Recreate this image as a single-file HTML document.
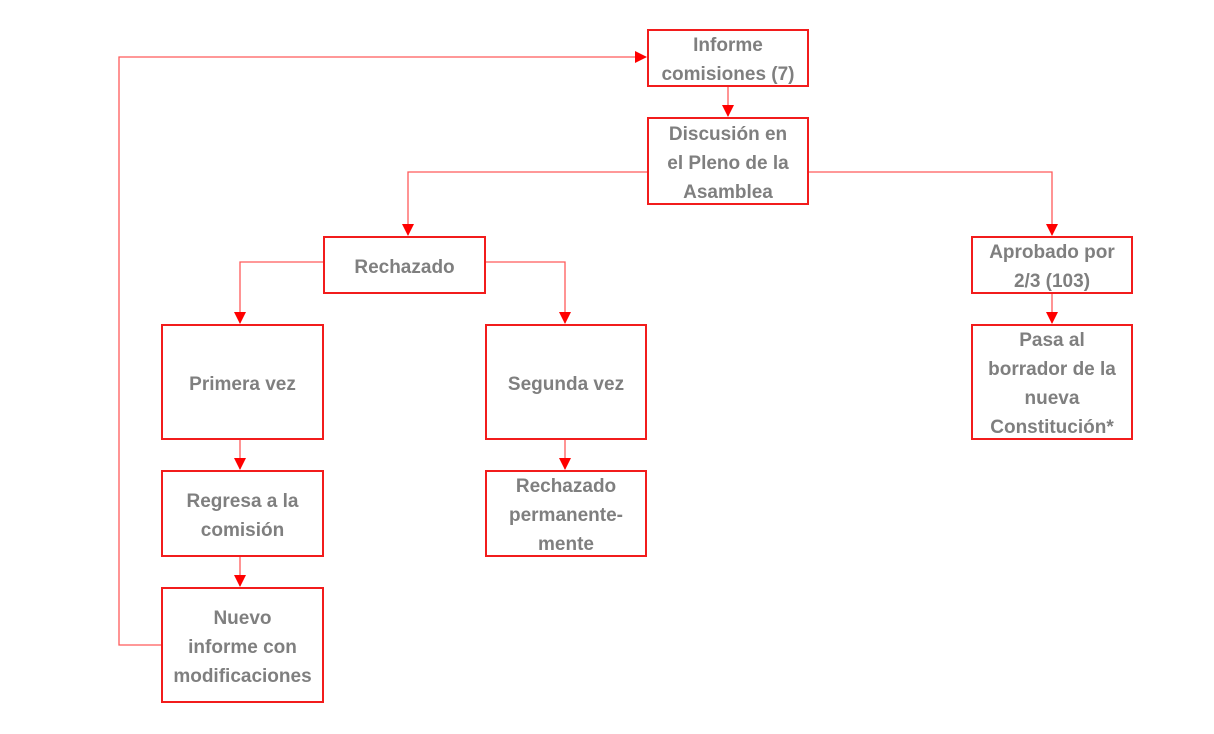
<!DOCTYPE html>
<html><head><meta charset="utf-8"><style>
body{margin:0;width:1214px;height:734px;background:#fff;position:relative;overflow:hidden;font-family:"Liberation Sans",sans-serif}
.b{position:absolute;box-sizing:border-box;border:2px solid #f21c1c;display:flex;align-items:center;justify-content:center;text-align:center;color:#7f7f7f;font-weight:bold;font-size:19px;line-height:29px;padding-top:4px}
svg{position:absolute;left:0;top:0}
</style></head><body>
<svg width="1214" height="734">
<defs><marker id="a" markerWidth="12" markerHeight="12" refX="11" refY="6" orient="auto" markerUnits="userSpaceOnUse"><path d="M0,0 L12,6 L0,12z" fill="#f00"/></marker></defs>
<g stroke="#ff5a5a" stroke-width="1.3" fill="none" marker-end="url(#a)">
<path d="M161,645 H119 V57 H646"/>
<path d="M728,87 V116"/>
<path d="M647,172 H408 V235"/>
<path d="M809,172 H1052 V235"/>
<path d="M323,262 H240 V323"/>
<path d="M486,262 H565 V323"/>
<path d="M240,440 V469"/>
<path d="M240,557 V586"/>
<path d="M565,440 V469"/>
<path d="M1052,294 V323"/>
</g></svg>
<div class="b" style="left:647px;top:29px;width:162px;height:58px">Informe<br>comisiones (7)</div>
<div class="b" style="left:647px;top:117px;width:162px;height:88px">Discusión en<br>el Pleno de la<br>Asamblea</div>
<div class="b" style="left:323px;top:236px;width:163px;height:58px">Rechazado</div>
<div class="b" style="left:971px;top:236px;width:162px;height:58px">Aprobado por<br>2/3 (103)</div>
<div class="b" style="left:161px;top:324px;width:163px;height:116px">Primera vez</div>
<div class="b" style="left:485px;top:324px;width:162px;height:116px">Segunda vez</div>
<div class="b" style="left:971px;top:324px;width:162px;height:116px">Pasa al<br>borrador de la<br>nueva<br>Constitución*</div>
<div class="b" style="left:161px;top:470px;width:163px;height:87px">Regresa a la<br>comisión</div>
<div class="b" style="left:485px;top:470px;width:162px;height:87px">Rechazado<br>permanente-<br>mente</div>
<div class="b" style="left:161px;top:587px;width:163px;height:116px">Nuevo<br>informe con<br>modificaciones</div>
</body></html>
